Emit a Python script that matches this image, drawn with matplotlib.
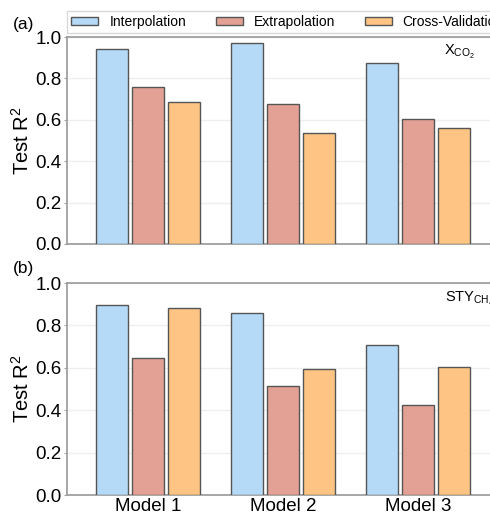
import numpy as np
import matplotlib.pyplot as plt

plt.rcParams["font.family"] = ["Liberation Sans", "DejaVu Sans"]
plt.rcParams["mathtext.fontset"] = "custom"
plt.rcParams["mathtext.rm"] = "Liberation Sans"
plt.rcParams["mathtext.it"] = "Liberation Sans:italic"

models = ["Model 1", "Model 2", "Model 3"]
methods = ["Interpolation", "Extrapolation", "Cross-Validation"]
colors = ["#b5daf8", "#e3a195", "#fdc483"]

# panel (a): X_CO2
xco2 = {
    "Interpolation": [0.943, 0.971, 0.873],
    "Extrapolation": [0.758, 0.677, 0.603],
    "Cross-Validation": [0.686, 0.536, 0.561],
}
# panel (b): STY_CH4
sty = {
    "Interpolation": [0.897, 0.858, 0.706],
    "Extrapolation": [0.644, 0.513, 0.424],
    "Cross-Validation": [0.884, 0.596, 0.606],
}

W, H = 490, 515
fig = plt.figure(figsize=(W / 100, H / 100), dpi=100)
ax_w = 432 / W
ax1 = fig.add_axes([67 / W, (H - 244) / H, ax_w, 207 / H])
ax2 = fig.add_axes([67 / W, (H - 495) / H, ax_w, 212 / H])

x = np.arange(len(models))
width = 0.237
step = 0.267


def draw(ax, data, label, note, note_pos):
    bars = []
    for i, m in enumerate(methods):
        b = ax.bar(x + (i - 1) * step, data[m], width, color=colors[i],
                   edgecolor="#555555", linewidth=1.0, label=m, zorder=3)
        bars.append(b)
    ax.set_xlim(-0.6, 2.6)
    ax.set_ylim(0, 1.0)
    ax.set_yticks([0, 0.2, 0.4, 0.6, 0.8, 1.0])
    ax.yaxis.grid(True, color="#efefef", linewidth=1.0, zorder=0)
    ax.set_axisbelow(True)
    for s in ["left", "top", "bottom", "right"]:
        ax.spines[s].set_color("#a0a0a0")
        ax.spines[s].set_linewidth(1.3)
    ax.tick_params(axis="y", length=2, color="#a0a0a0", labelsize=13.5, pad=2)
    ax.tick_params(axis="x", length=0, labelsize=13.5, pad=2)
    ax.set_ylabel("Test R$^2$", fontsize=14.5, labelpad=2)
    fig.text(note_pos[0] / W, 1 - note_pos[1] / H, note,
             fontsize=10.5, ha="left", va="center")
    fig.text(13 / W, 1 - label[1] / H, label[0], fontsize=12.5,
             ha="left", va="center")
    return bars


bars = draw(ax1, xco2, ("(a)", 24), r"X$_{\mathrm{CO_2}}$", (444, 52))
draw(ax2, sty, ("(b)", 268), r"STY$_{\mathrm{CH_4}}$", (445, 299))

ax1.set_xticks(x)
ax1.set_xticklabels([])
ax2.set_xticks(x)
ax2.set_xticklabels(models)

fig.legend(bars, methods, loc="lower left", ncol=3, mode="expand",
           bbox_to_anchor=(67 / W, 1 - 33 / H, 0.9, 23 / H),
           fontsize=10, frameon=True, edgecolor="#d0d0d0", fancybox=False,
           handlelength=1.95, handleheight=0.6, handletextpad=0.8,
           borderaxespad=0, borderpad=0.3)

fig.savefig("out.png", dpi=100)
